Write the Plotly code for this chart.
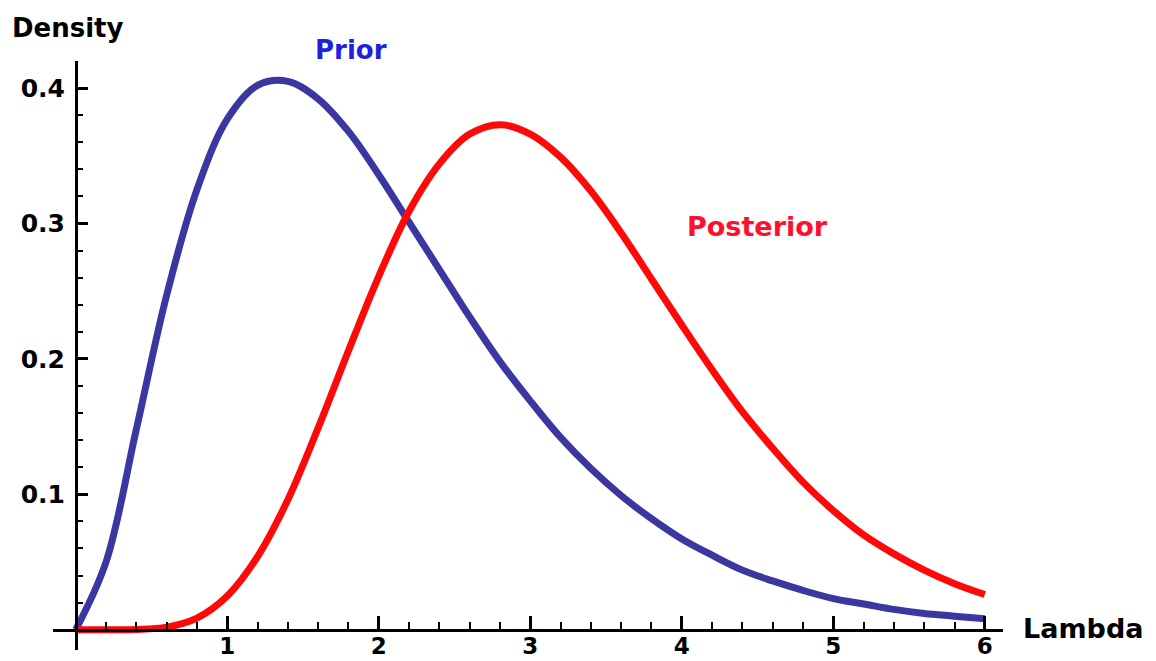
import plotly.graph_objects as go

# Lambda grid (values at 0.2 steps)
lam = [0.0, 0.2, 0.4, 0.6, 0.8, 1.0, 1.2, 1.4, 1.6, 1.8, 2.0, 2.2, 2.4, 2.6, 2.8, 3.0,
       3.2, 3.4, 3.6, 3.8, 4.0, 4.2, 4.4, 4.6, 4.8, 5.0, 5.2, 5.4, 5.6, 5.8, 6.0]

prior = [0.0, 0.050, 0.148, 0.247, 0.325, 0.377, 0.402, 0.405, 0.392, 0.368, 0.336,
         0.301, 0.266, 0.231, 0.198, 0.169, 0.142, 0.119, 0.099, 0.082, 0.067,
         0.055, 0.044, 0.036, 0.029, 0.023, 0.019, 0.015, 0.012, 0.010, 0.008]

posterior = [0.0, 0.0, 0.0002, 0.0019, 0.0086, 0.0249, 0.054, 0.096, 0.149, 0.206, 0.261,
             0.309, 0.344, 0.366, 0.373, 0.366, 0.349, 0.324, 0.293, 0.259, 0.225,
             0.192, 0.161, 0.134, 0.109, 0.088, 0.070, 0.056, 0.044, 0.034, 0.026]

x_ticks = [1, 2, 3, 4, 5, 6]
x_tick_text = ["1", "2", "3", "4", "5", "6"]
y_ticks = [0.1, 0.2, 0.3, 0.4]
y_tick_text = ["0.1", "0.2", "0.3", "0.4"]

PRIOR_LINE = "#3a37a0"
POST_LINE = "#ff0808"
FONT = "DejaVu Sans"

fig = go.Figure()
fig.add_trace(go.Scatter(x=lam, y=prior, mode="lines", line=dict(color=PRIOR_LINE, width=7, shape="spline"),
                         name="Prior", showlegend=False, hoverinfo="skip"))
fig.add_trace(go.Scatter(x=lam, y=posterior, mode="lines", line=dict(color=POST_LINE, width=7, shape="spline"),
                         name="Posterior", showlegend=False, hoverinfo="skip"))

W, H = 1156, 661
L, R, T, B = 53, 153, 61, 11
xr = [-0.15, 6.12]
yr = [-0.015, 0.42]
x0_frac = (0 - xr[0]) / (xr[1] - xr[0])
y0_frac = (0 - yr[0]) / (yr[1] - yr[0])

fig.update_layout(
    width=W, height=H,
    margin=dict(l=L, r=R, t=T, b=B, autoexpand=False),
    paper_bgcolor="white", plot_bgcolor="white",
    showlegend=False,
    xaxis=dict(range=xr, anchor="free", position=y0_frac, showgrid=False, zeroline=False,
               automargin=False,
               showline=True, linecolor="black", linewidth=2.5,
               tickmode="array", tickvals=x_ticks, ticktext=x_tick_text,
               ticks="inside", ticklen=13, tickwidth=2.5, tickcolor="black",
               tickfont=dict(family=FONT, size=23, color="black", weight="bold"),
               ticklabelstandoff=-5,
               minor=dict(dtick=0.2, tick0=0, ticks="inside", ticklen=7, tickwidth=2, tickcolor="black", showgrid=False)),
    yaxis=dict(range=yr, anchor="free", position=x0_frac, showgrid=False, zeroline=False,
               automargin=False,
               showline=True, linecolor="black", linewidth=2.5,
               tickmode="array", tickvals=y_ticks, ticktext=y_tick_text,
               ticks="inside", ticklen=11, tickwidth=2.5, tickcolor="black",
               tickfont=dict(family=FONT, size=25, color="black", weight="bold"),
               ticklabelstandoff=5,
               minor=dict(dtick=0.02, tick0=0, ticks="inside", ticklen=6, tickwidth=2, tickcolor="black", showgrid=False)),
)

def px_to_paper_x(px):
    return (px - L) / (W - L - R)

def px_to_paper_y(py):
    return 1 - (py - T) / (H - T - B)

def label(text, px, py, anchor, size, color):
    fig.add_annotation(text=f"<b>{text}</b>", x=px_to_paper_x(px), y=px_to_paper_y(py),
                       xref="paper", yref="paper", xanchor=anchor, yanchor="middle",
                       showarrow=False, font=dict(family=FONT, size=size, color=color))

label("Density", 10, 28, "left", 26, "black")
label("Lambda", 1021, 628, "left", 27, "black")
label("Prior", 351, 50, "center", 26, "#1f1fe0")
label("Posterior", 757, 226, "center", 27, "#ff0f2f")

fig.write_html(
    "out.html",
    config={"displayModeBar": False},
    post_script="document.body.style.margin='0';document.documentElement.style.overflow='hidden';",
)
